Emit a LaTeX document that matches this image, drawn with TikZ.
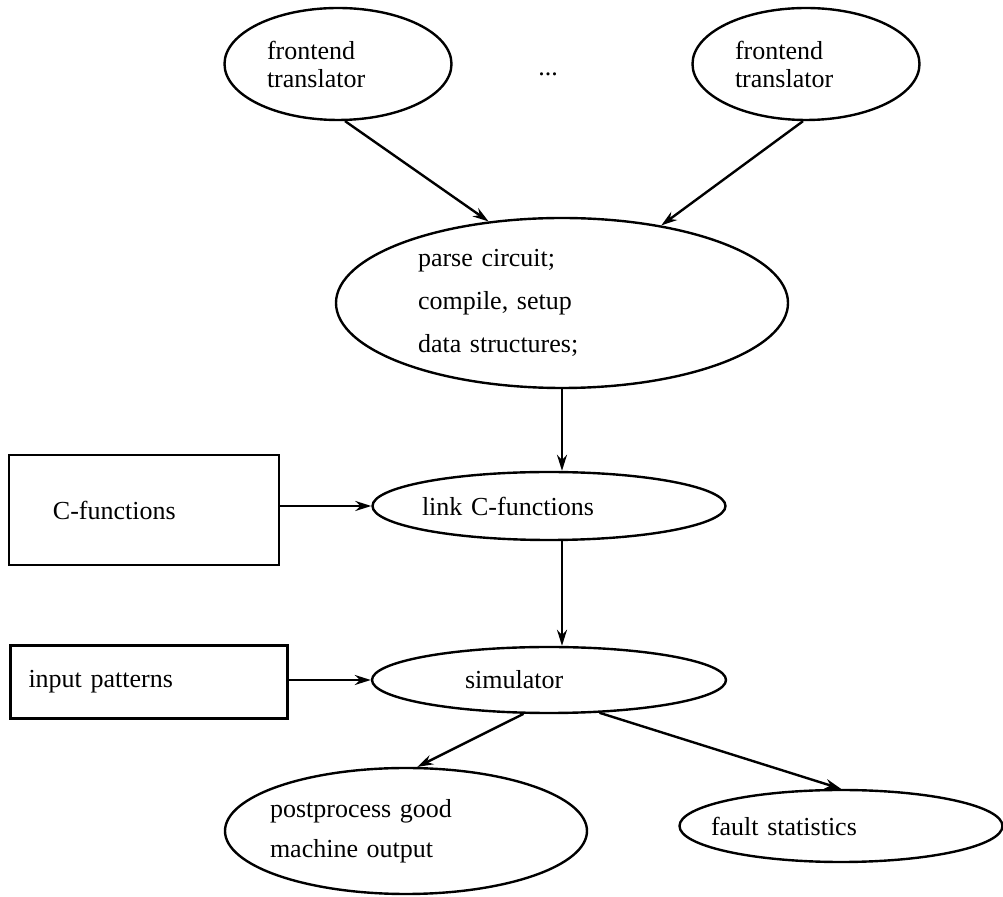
\documentclass[tikz,border=0pt]{standalone}
\usepackage{fontspec}
\setmainfont{Liberation Serif}
\usepackage{tikz}
\usetikzlibrary{shapes.geometric,arrows.meta}

\tikzset{
  oval/.style={draw,ellipse,inner ysep=0pt,inner xsep=-8pt,align=left},
  box/.style={draw,rectangle,align=left}
}

\begin{document}
\begin{tikzpicture}[>={Stealth[length=8pt,width=5pt]}, line width=1.2pt,
    font=\fontsize{13}{14}\selectfont]
    \useasboundingbox (0,0) rectangle (501.5pt,-448.5pt);

    \node[oval,minimum width=113.5pt,minimum height=56pt,text width=71pt] (fe1)
      at (169pt,-32pt) {frontend\\translator};
    \node[right of=fe1,node distance=105pt,yshift=-5pt] (dots) {...};
    \node[oval,right of=fe1,node distance=234pt,minimum width=113.5pt,minimum height=56pt,text width=71pt] (fe2)
      {frontend\\translator};
    \node[oval,below of=fe1,node distance=119.5pt,xshift=112pt,minimum width=226pt,minimum height=85pt,
      text width=144pt,font=\fontsize{13}{21.5}\selectfont] (parse)
      {parse circuit;\\compile, setup\\data structures;};
    \node[oval,below of=parse,node distance=101.5pt,xshift=-6.5pt,minimum width=176.5pt,minimum height=34pt,
      text width=127pt] (link) {link C-functions};
    \node[box,left of=link,node distance=202.5pt,yshift=-2pt,minimum width=135pt,minimum height=55pt,
      text width=91pt] (cfun) {C-functions};
    \node[oval,below of=link,node distance=87pt,minimum width=177pt,minimum height=33pt,
      text width=84pt] (sim) {simulator};
    \node[box,left of=sim,node distance=200pt,yshift=-1pt,minimum width=138.5pt,minimum height=36.5pt,
      text width=120.5pt] (inpat) {input patterns};
    \node[oval,below of=sim,node distance=75.5pt,xshift=-71.5pt,minimum width=181pt,minimum height=63pt,
      text width=136pt,font=\fontsize{13}{20}\selectfont] (post) {postprocess good\\machine output};
    \node[oval,below of=sim,node distance=73pt,xshift=146pt,minimum width=161.5pt,minimum height=36pt,
      text width=130pt] (fault) {fault statistics};

    \draw[->] (fe1.-83) -- (parse.132);
    \draw[->] (fe2.-93) -- (parse.38);
    \draw[->] (parse.south) -- (parse.south |- link.north);
    \draw[->] (link.south -| parse.south) -- (parse.south |- sim.north);
    \draw[->] (cfun.east |- link.west) -- (link.west);
    \draw[->] (inpat.east |- sim.west) -- (sim.west);
    \draw[->] (sim.-127) -- (post.80);
    \draw[->] (sim.-33) -- (fault.north);
\end{tikzpicture}
\end{document}
